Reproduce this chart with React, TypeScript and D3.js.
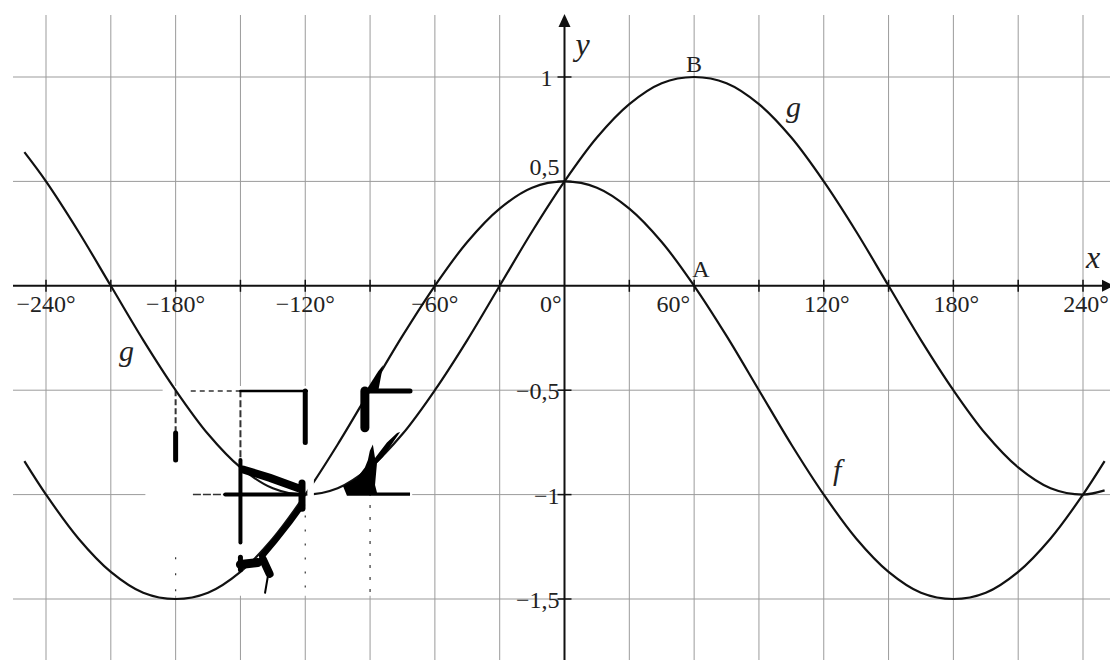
import React, { useEffect, useRef } from "react";
import * as d3 from "d3";

const angles = [
  -250, -240, -225, -210, -195, -180, -165, -150, -135, -120, -105, -90, -75, -60, -45, -30, -15, 0,
  15, 30, 45, 60, 75, 90, 105, 120, 135, 150, 165, 180, 195, 210, 225, 240, 250,
];
const fValues = [
  -0.84, -1.0, -1.21, -1.37, -1.47, -1.5, -1.47, -1.37, -1.21, -1.0, -0.76, -0.5, -0.24, 0.0, 0.21, 0.37, 0.47, 0.5,
  0.47, 0.37, 0.21, 0.0, -0.24, -0.5, -0.76, -1.0, -1.21, -1.37, -1.47, -1.5, -1.47, -1.37, -1.21, -1.0, -0.84,
];
const gValues = [
  0.64, 0.5, 0.26, 0.0, -0.26, -0.5, -0.71, -0.87, -0.97, -1.0, -0.97, -0.87, -0.71, -0.5, -0.26, 0.0, 0.26, 0.5,
  0.71, 0.87, 0.97, 1.0, 0.97, 0.87, 0.71, 0.5, 0.26, 0.0, -0.26, -0.5, -0.71, -0.87, -0.97, -1.0, -0.98,
];

const xGrid = d3.range(-240, 241, 30);
const xTickLabels = [-240, -180, -120, -60, 0, 60, 120, 180, 240];
const yGrid = [1, 0.5, -0.5, -1, -1.5];
const yTickLabels = ["1", "0,5", "−0,5", "−1", "−1,5"];

// scan damage in lower left, in data units
const blotStrokes = [
  { pts: [[-180, -0.705], [-180, -0.834]], w: 5 },
  { pts: [[-150, -0.504], [-119.3, -0.504]], w: 2.5 },
  { pts: [[-120, -0.504], [-120, -0.75]], w: 5 },
  { pts: [[-150, -0.834], [-150, -1.23]], w: 4 },
  { pts: [[-150, -1.3], [-150, -1.36]], w: 5 },
  { pts: [[-150, -1.335], [-142, -1.325]], w: 9 },
  { pts: [[-157, -1.0], [-122.4, -1.0]], w: 4 },
  { pts: [[-148.8, -0.88], [-136.3, -0.92], [-123.4, -0.968]], w: 8 },
  { pts: [[-121.5, -0.945], [-121.5, -1.065]], w: 7 },
  { pts: [[-121.5, -1.05], [-127.1, -1.13], [-134, -1.22], [-140, -1.294]], w: 6 },
  { pts: [[-139.6, -1.31], [-136.5, -1.38]], w: 8 },
  { pts: [[-137.2, -1.385], [-138.6, -1.47]], w: 2 },
  { pts: [[-92.4, -0.504], [-92.4, -0.68]], w: 9 },
  { pts: [[-93, -0.504], [-71.5, -0.504]], w: 5 },
];
const blotDashes = [
  { pts: [[-180, -0.5], [-180, -0.7]], w: 2, dash: "6,3" },
  { pts: [[-173, -0.504], [-150, -0.504]], w: 1.5, dash: "5,4" },
  { pts: [[-150, -0.5], [-150, -0.83]], w: 2, dash: "7,3" },
  { pts: [[-172, -1.0], [-157, -1.0]], w: 1.5, dash: "8,2" },
  { pts: [[-90, -0.82], [-90, -1.48]], w: 1.2, dash: "3,9" },
  { pts: [[-120, -1.1], [-120, -1.48]], w: 1.2, dash: "2,12" },
  { pts: [[-180, -1.3], [-180, -1.48]], w: 1.2, dash: "2,14" },
];
const blotShapes = [
  [[-92.4, -0.51], [-86.3, -0.41], [-84, -0.38], [-86.3, -0.51]],
  [
    [-102.5, -0.96], [-96.1, -0.92], [-92.4, -0.87], [-91, -0.834], [-90.1, -0.79], [-88.7, -0.76],
    [-87.7, -0.825], [-82.2, -0.75], [-77.5, -0.705], [-76.1, -0.7], [-84, -0.82], [-86.8, -0.85],
    [-87.7, -0.954], [-86.8, -0.99], [-71.5, -0.99], [-71.5, -1.005], [-100.7, -1.005],
  ],
];
const blotMask = [
  [-186, -0.48], [-70.5, -0.48], [-70.5, -1.485], [-194, -1.485], [-194, -0.55], [-186, -0.55],
];

function Chart() {
  const ref = useRef<SVGSVGElement>(null);

  useEffect(() => {
    const width = 1110;
    const height = 660;
    const svg = d3.select(ref.current);
    svg.selectAll("*").remove();

    const x = d3.scaleLinear().domain([-240, 240]).range([46, 1083]);
    const y = d3.scaleLinear().domain([-1.5, 1]).range([599, 77]);
    const x0 = x(0);
    const y0 = y(0);
    const font = "'Liberation Serif', 'Times New Roman', serif";

    svg.append("rect").attr("width", width).attr("height", height).attr("fill", "#fff");

    // grid
    const grid = svg.append("g").attr("stroke", "#9b9b9b").attr("stroke-width", 1);
    grid
      .selectAll("line.v")
      .data(xGrid)
      .enter()
      .append("line")
      .attr("x1", (d) => x(d))
      .attr("x2", (d) => x(d))
      .attr("y1", 15)
      .attr("y2", height);
    grid
      .selectAll("line.h")
      .data(yGrid)
      .enter()
      .append("line")
      .attr("x1", 13)
      .attr("x2", width)
      .attr("y1", (d) => y(d))
      .attr("y2", (d) => y(d));

    const pt = (p: number[]) => [x(p[0]), y(p[1])] as [number, number];
    const poly = d3.line<number[]>().x((p) => x(p[0])).y((p) => y(p[1]));

    // white patch where the scan lost the grid
    svg.append("path").attr("d", poly(blotMask) + "Z").attr("fill", "#fff");
    svg
      .append("g")
      .selectAll("path")
      .data(blotDashes)
      .enter()
      .append("path")
      .attr("d", (d) => poly(d.pts))
      .attr("fill", "none")
      .attr("stroke", "#333")
      .attr("stroke-width", (d) => d.w)
      .attr("stroke-dasharray", (d) => d.dash);

    // axes
    const axes = svg.append("g").attr("stroke", "#111").attr("stroke-width", 2);
    axes.append("line").attr("x1", 13).attr("x2", width).attr("y1", y0).attr("y2", y0);
    axes.append("line").attr("x1", x0).attr("x2", x0).attr("y1", 22).attr("y2", height);
    svg
      .append("path")
      .attr("d", `M${x0},14 L${x0 - 6},27 L${x0 + 6},27 Z`)
      .attr("fill", "#111");
    svg
      .append("path")
      .attr("d", `M${width + 4},${y0} L${width - 8},${y0 - 6} L${width - 8},${y0 + 6} Z`)
      .attr("fill", "#111");

    axes
      .selectAll("line.xt")
      .data(xGrid.filter((d) => d !== 0))
      .enter()
      .append("line")
      .attr("x1", (d) => x(d))
      .attr("x2", (d) => x(d))
      .attr("y1", y0 - 6)
      .attr("y2", y0 + 6)
      .attr("stroke-width", 1.5);
    axes
      .selectAll("line.yt")
      .data(yGrid)
      .enter()
      .append("line")
      .attr("x1", x0 - 7)
      .attr("x2", x0 + 7)
      .attr("y1", (d) => y(d))
      .attr("y2", (d) => y(d))
      .attr("stroke-width", 1.5);

    // tick labels
    svg
      .append("g")
      .selectAll("text")
      .data(xTickLabels)
      .enter()
      .append("text")
      .attr("x", (d) => (d === 0 ? x(d) - 3 : d === 60 ? x(d) - 4 : x(d) + (d > 0 ? 3 : 0)))
      .attr("y", y0 + 26)
      .attr("text-anchor", (d) => (d === 0 || d === 60 ? "end" : "middle"))
      .attr("font-family", font)
      .attr("font-size", 24)
      .attr("fill", "#222")
      .text((d) => (d < 0 ? "−" + Math.abs(d) : d) + "°");

    svg
      .append("g")
      .selectAll("text")
      .data(yGrid)
      .enter()
      .append("text")
      .attr("x", (d) => (d === 1 ? x0 - 12 : x0 - 5))
      .attr("y", (d) => (d === 0.5 ? y(d) - 6 : y(d) + 9))
      .attr("text-anchor", "end")
      .attr("font-family", font)
      .attr("font-size", 24)
      .attr("fill", "#222")
      .text((d, i) => yTickLabels[i]);

    // curves
    const line = d3
      .line<number>()
      .x((d, i) => x(angles[i]))
      .y((d) => y(d))
      .curve(d3.curveCatmullRom.alpha(0.5));
    [fValues, gValues].forEach((vals) => {
      svg
        .append("path")
        .attr("d", line(vals))
        .attr("fill", "none")
        .attr("stroke", "#111")
        .attr("stroke-width", 2.2);
    });

    // scan blots over the curves
    const gap = pt([-119, -0.93]);
    const gap2 = pt([-116, -1.03]);
    svg
      .append("rect")
      .attr("x", gap[0])
      .attr("y", gap[1])
      .attr("width", gap2[0] - gap[0])
      .attr("height", gap2[1] - gap[1])
      .attr("fill", "#fff");
    svg
      .append("g")
      .selectAll("path")
      .data(blotStrokes)
      .enter()
      .append("path")
      .attr("d", (d) => poly(d.pts))
      .attr("fill", "none")
      .attr("stroke", "#000")
      .attr("stroke-width", (d) => d.w)
      .attr("stroke-linecap", "round");
    svg
      .append("g")
      .selectAll("path")
      .data(blotShapes)
      .enter()
      .append("path")
      .attr("d", (d) => poly(d) + "Z")
      .attr("fill", "#000");

    // point and curve names
    const label = (t: string, px: number, py: number, size: number, italic: boolean, anchor = "start") =>
      svg
        .append("text")
        .attr("x", px)
        .attr("y", py)
        .attr("text-anchor", anchor)
        .attr("font-family", font)
        .attr("font-style", italic ? "italic" : "normal")
        .attr("font-size", size)
        .attr("fill", "#222")
        .text(t);

    label("B", x(60), y(1) - 5, 24, false, "middle");
    label("A", x(60) - 2, y0 - 9, 24, false);
    label("y", x0 + 11, 55, 32, true);
    label("x", 1086, 268, 32, true);
    label("g", 786, 117, 30, true);
    label("g", 119, 361, 30, true);
    label("f", 833, 480, 30, true);
  }, []);

  return (
    <svg
      ref={ref}
      width={1110}
      height={660}
      style={{ position: "absolute", left: 0, top: 0, display: "block" }}
    />
  );
}

export default function App() {
  return <Chart />;
}
